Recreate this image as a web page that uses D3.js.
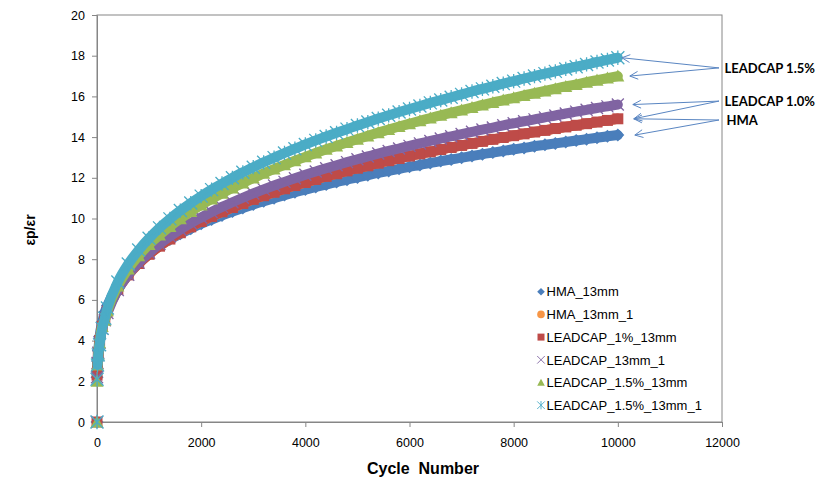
<!DOCTYPE html>
<html><head><meta charset="utf-8">
<script src="https://cdn.jsdelivr.net/npm/d3@7"></script>
<style>html,body{margin:0;padding:0;background:#fff}svg{display:block}</style>
</head><body>
<svg id="chart" width="823" height="490"></svg>
<script>
// ---- data ----
const cycles = [0,1,10,25,50,100,150,200,400,600,800,1000,1200,1400,1600,1800,2000,2200,2400,2600,2800,3000,3200,3400,3600,3800,4000,4200,4400,4600,4800,5000,5200,5400,5600,5800,6000,6200,6400,6600,6800,7000,7200,7400,7600,7800,8000,8200,8400,8600,8800,9000,9200,9400,9600,9800,10000];
const hma13mm = [0,2.2,3.0,3.5,4.2,4.9,5.4,5.73,6.73,7.38,7.89,8.30,8.66,8.97,9.25,9.50,9.74,9.95,10.15,10.34,10.52,10.69,10.85,11.00,11.15,11.29,11.42,11.55,11.67,11.79,11.91,12.02,12.13,12.24,12.34,12.44,12.54,12.63,12.73,12.82,12.90,12.99,13.07,13.16,13.24,13.32,13.40,13.47,13.55,13.62,13.69,13.76,13.83,13.90,13.97,14.04,14.10];
const hma13mm1 = [0,2.3,2.9,3.4,4.0,4.7,5.1,5.45,6.51,7.23,7.79,8.24,8.64,8.99,9.30,9.59,9.85,10.10,10.33,10.54,10.74,10.94,11.12,11.29,11.46,11.62,11.77,11.92,12.07,12.20,12.34,12.47,12.59,12.72,12.84,12.95,13.07,13.18,13.28,13.39,13.49,13.59,13.69,13.79,13.89,13.98,14.07,14.16,14.25,14.33,14.42,14.50,14.58,14.66,14.74,14.82,14.90];
const leadcap1pct13mm = [0,2.3,2.9,3.4,4.0,4.7,5.1,5.45,6.51,7.23,7.79,8.24,8.64,8.99,9.30,9.59,9.85,10.10,10.33,10.54,10.74,10.94,11.12,11.29,11.46,11.62,11.77,11.92,12.07,12.20,12.34,12.47,12.59,12.72,12.84,12.95,13.07,13.18,13.28,13.39,13.49,13.59,13.69,13.79,13.89,13.98,14.07,14.16,14.25,14.33,14.42,14.50,14.58,14.66,14.74,14.82,14.90];
const leadcap13mm1 = [0,2.2,2.9,3.4,3.9,4.6,5.0,5.36,6.48,7.24,7.83,8.32,8.75,9.12,9.46,9.77,10.05,10.32,10.57,10.80,11.02,11.23,11.43,11.62,11.80,11.98,12.15,12.31,12.47,12.62,12.77,12.91,13.05,13.19,13.32,13.44,13.57,13.69,13.81,13.93,14.04,14.15,14.26,14.37,14.47,14.58,14.68,14.78,14.87,14.97,15.06,15.16,15.25,15.34,15.43,15.51,15.60];
const leadcap15pct13mm = [0,2.0,2.8,3.3,3.9,4.7,5.0,5.47,6.68,7.52,8.17,8.72,9.19,9.61,9.99,10.34,10.66,10.96,11.24,11.50,11.75,11.99,12.22,12.43,12.64,12.84,13.03,13.22,13.40,13.57,13.74,13.90,14.06,14.22,14.37,14.52,14.66,14.80,14.94,15.07,15.20,15.33,15.45,15.58,15.70,15.82,15.93,16.05,16.16,16.27,16.38,16.49,16.59,16.70,16.80,16.90,17.00];
const leadcap15pct13mm1 = [0,2.1,2.8,3.3,3.8,4.6,5.1,5.60,6.88,7.76,8.45,9.03,9.54,9.98,10.39,10.76,11.10,11.42,11.72,12.00,12.27,12.52,12.76,12.99,13.22,13.43,13.64,13.84,14.03,14.21,14.39,14.57,14.74,14.91,15.07,15.23,15.38,15.53,15.68,15.82,15.96,16.10,16.24,16.37,16.50,16.63,16.75,16.88,17.00,17.12,17.23,17.35,17.46,17.57,17.69,17.79,17.90];
const seriesNames = ["HMA_13mm","HMA_13mm_1","LEADCAP_1%_13mm","LEADCAP_13mm_1","LEADCAP_1.5%_13mm","LEADCAP_1.5%_13mm_1"];
const seriesValues = [hma13mm, hma13mm1, leadcap1pct13mm, leadcap13mm1, leadcap15pct13mm, leadcap15pct13mm1];
const xTicks = [0,2000,4000,6000,8000,10000,12000];
const yTicks = [0,2,4,6,8,10,12,14,16,18,20];
const annotationLabels = ["LEADCAP 1.5%","LEADCAP 1.0%","HMA"];
const annotationLevels = [17.4,15.77,14.84];
const annotationTargets = [[5,4],[3,2],[2,0]];

// ---- styles ----
const colors = ["#4A7EBB","#F79646","#BE4B48","#8064A2","#98B954","#4BACC6"];
const symbols = ["diamond","circle","square","cross","triangle","asterisk"];
const plotSizes = [6.5,5,5.5,6,6.5,6.5];
const arrowDx = {5:4,4:12,3:15,2:16,0:17};

function symPath(type, s){
  switch(type){
    case "diamond": return `M0,${-s}L${s},0L0,${s}L${-s},0Z`;
    case "circle": return `M${-s},0A${s},${s} 0 1,0 ${s},0A${s},${s} 0 1,0 ${-s},0Z`;
    case "square": return `M${-s},${-s}h${2*s}v${2*s}h${-2*s}Z`;
    case "cross": return `M${-s},${-s}L${s},${s}M${-s},${s}L${s},${-s}`;
    case "triangle": return `M0,${-s}L${s},${s*0.85}L${-s},${s*0.85}Z`;
    case "asterisk": return `M${-s},${-s}L${s},${s}M${-s},${s}L${s},${-s}M0,${-s*1.1}V${s*1.1}`;
  }
}
const isStroke = t => t==="cross" || t==="asterisk";

const svg = d3.select("#chart");
const x = d3.scaleLinear().domain([0,12000]).range([97,722]);
const y = d3.scaleLinear().domain([0,20]).range([422,15]);
const axisColor = "#868686";
const font = "'Liberation Sans', Arial, sans-serif";

// plot border
svg.append("rect").attr("x",x(0)).attr("y",y(20)).attr("width",x(12000)-x(0)).attr("height",y(0)-y(20))
  .attr("fill","none").attr("stroke",axisColor).attr("stroke-width",1);

// axes
const gy = svg.append("g").attr("transform",`translate(${x(0)},0)`)
  .call(d3.axisLeft(y).tickValues(yTicks).tickSize(5).tickPadding(7).tickFormat(d3.format("d")));
const gx = svg.append("g").attr("transform",`translate(0,${y(0)})`)
  .call(d3.axisBottom(x).tickValues(xTicks).tickSize(5).tickPadding(11).tickFormat(d3.format("d")));
[gx,gy].forEach(g=>{
  g.selectAll("path,line").attr("stroke",axisColor);
  g.selectAll("text").attr("fill","#000").style("font-family",font).style("font-size","12.5px");
});

// series
const plot = svg.append("g");
seriesValues.forEach((vals,i)=>{
  const pts = cycles.map((c,j)=>({c:c,v:vals[j]}));
  const g = plot.append("g");
  const line = d3.line().x(d=>x(d.c)).y(d=>y(d.v)).curve(d3.curveMonotoneX);
  g.append("path").datum(pts.filter(d=>d.c>=10)).attr("d",line)
    .attr("fill","none").attr("stroke",colors[i]).attr("stroke-width",10).attr("stroke-linecap","round");
  g.selectAll("path.m").data(pts).join("path").attr("class","m")
    .attr("transform",d=>`translate(${x(d.c)},${y(d.v)})`)
    .attr("d",symPath(symbols[i],plotSizes[i]))
    .attr("fill",isStroke(symbols[i])?"none":colors[i])
    .attr("stroke",isStroke(symbols[i])?colors[i]:"none")
    .attr("stroke-width",1.3);
});

// legend
const lg = svg.append("g");
seriesNames.forEach((n,i)=>{
  const yy = 291.7 + i*22.7;
  lg.append("path").attr("transform",`translate(541,${yy})`)
    .attr("d",symPath(symbols[i], symbols[i]==="square"?3.5:3.8))
    .attr("fill",isStroke(symbols[i])?"none":colors[i])
    .attr("stroke",isStroke(symbols[i])?colors[i]:"none").attr("stroke-width",0.9);
  lg.append("text").attr("x",546.5).attr("y",yy+4.7).text(n)
    .style("font-family",font).style("font-size","13px").attr("fill","#000");
});

// annotations with arrows
const ann = svg.append("g");
const arrowColor = "#5A86C2";
annotationLabels.forEach((lab,i)=>{
  const sy = y(annotationLevels[i]);
  const sx = 719;
  annotationTargets[i].forEach(si=>{
    const vals = seriesValues[si];
    const tx = x(cycles[cycles.length-1]) + arrowDx[si];
    const ty = y(vals[vals.length-1]);
    ann.append("line").attr("x1",sx).attr("y1",sy).attr("x2",tx).attr("y2",ty)
      .attr("stroke",arrowColor).attr("stroke-width",1);
    const ang = Math.atan2(sy-ty, sx-tx);
    const L = 9, A = 0.45;
    const p1 = [tx+L*Math.cos(ang+A), ty+L*Math.sin(ang+A)];
    const p2 = [tx+L*Math.cos(ang-A), ty+L*Math.sin(ang-A)];
    ann.append("path").attr("d",`M${p1[0]},${p1[1]}L${tx},${ty}L${p2[0]},${p2[1]}`)
      .attr("fill","none").attr("stroke",arrowColor).attr("stroke-width",1);
  });
  ann.append("text").attr("x", lab==="HMA"?726.5:724.5).attr("y",sy+4.6).text(lab)
    .style("font-family","Lato, 'Liberation Sans', sans-serif").style("font-weight","bold")
    .style("font-size","13px").attr("fill","#000");
});

// axis titles
svg.append("text").attr("x",423).attr("y",474).attr("text-anchor","middle")
  .attr("xml:space","preserve").style("white-space","pre")
  .style("font-family",font).style("font-weight","bold").style("font-size","16px")
  .text("Cycle  Number");
svg.append("text").attr("transform","translate(35,230) rotate(-90)").attr("text-anchor","middle")
  .style("font-family",font).style("font-weight","bold").style("font-size","14px")
  .text("εp/εr");
</script>
</body></html>
